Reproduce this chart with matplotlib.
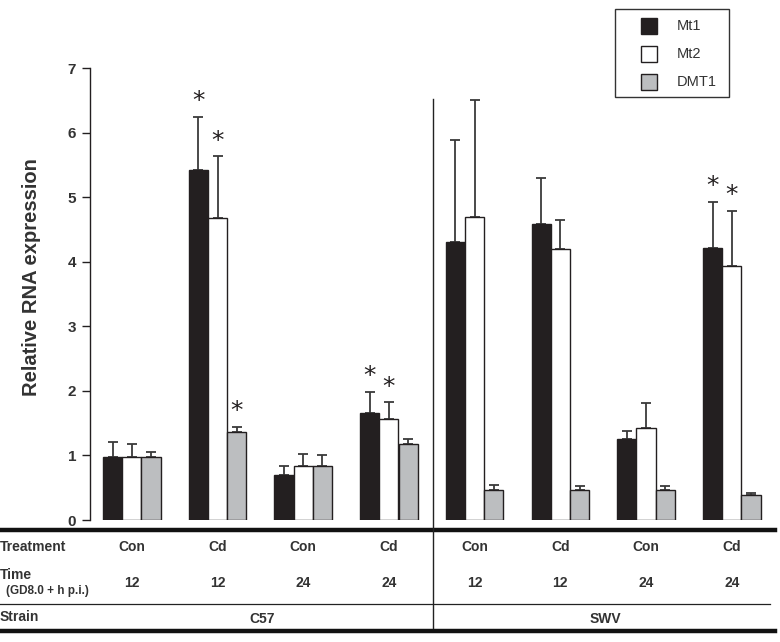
import matplotlib
matplotlib.use("Agg")
import matplotlib.pyplot as plt
from matplotlib.lines import Line2D
from matplotlib.patches import Rectangle
import numpy as np

plt.rcParams['font.family'] = ['Liberation Sans', 'DejaVu Sans']

series = ["Mt1", "Mt2", "DMT1"]
treatment = ["Con", "Cd", "Con", "Cd", "Con", "Cd", "Con", "Cd"]
time_h = ["12", "12", "24", "24", "12", "12", "24", "24"]
strains = ["C57", "SWV"]

mt1 = [0.98, 5.42, 0.69, 1.66, 4.31, 4.58, 1.25, 4.21]
mt1_err = [0.23, 0.82, 0.14, 0.32, 1.58, 0.71, 0.13, 0.71]
mt2 = [0.98, 4.68, 0.84, 1.56, 4.70, 4.19, 1.42, 3.94]
mt2_err = [0.19, 0.95, 0.18, 0.26, 1.81, 0.46, 0.39, 0.85]
dmt1 = [0.98, 1.37, 0.84, 1.17, 0.47, 0.47, 0.47, 0.38]
dmt1_err = [0.08, 0.07, 0.16, 0.08, 0.07, 0.05, 0.06, 0.04]

sig_mt1 = [False, True, False, True, False, False, False, True]
sig_mt2 = [False, True, False, True, False, False, False, True]
sig_dmt1 = [False, True, False, False, False, False, False, False]

W, H = 780, 642
fig = plt.figure(figsize=(W / 100, H / 100), dpi=100)

def fx(px):
    return px / W

def fy(py):
    return 1 - py / H

ax_left, ax_right, ax_top, ax_bot = 90, 775, 68, 520
ax = fig.add_axes([fx(ax_left), fy(ax_bot), fx(ax_right - ax_left), (ax_bot - ax_top) / H])

spacing = 85.7
x0 = -(131.8 - ax_left) / spacing
x1 = (ax_right - 131.8) / spacing
ax.set_xlim(x0, x1)
ax.set_ylim(0, 7)

bw = 19.2 / spacing
x = np.arange(len(treatment))
colors = ["#231f20", "#ffffff", "#bcbec0"]
vals = [mt1, mt2, dmt1]
errs = [mt1_err, mt2_err, dmt1_err]
sigs = [sig_mt1, sig_mt2, sig_dmt1]
for i in range(3):
    xi = x + (i - 1) * bw
    ax.bar(xi, vals[i], width=bw, color=colors[i], edgecolor="#231f20",
           linewidth=1.0, zorder=2)
    ax.errorbar(xi, vals[i], yerr=[np.zeros(len(x)), errs[i]], fmt="none",
                ecolor="#3a3a3a", elinewidth=1.3, capsize=3.5, capthick=1.3, zorder=1)
    for j in range(len(x)):
        if sigs[i][j]:
            top = vals[i][j] + errs[i][j]
            ax.text(xi[j], top + 0.06, "*", ha="center", va="bottom",
                    fontsize=18, color="#231f20", family="DejaVu Sans")

for s in ["top", "right", "bottom"]:
    ax.spines[s].set_visible(False)
ax.spines["left"].set_linewidth(1.0)
ax.spines["left"].set_color("#231f20")
ax.set_xticks([])
ax.set_yticks(range(8))
ax.tick_params(axis="y", length=6, width=1.0, labelsize=11, colors="#231f20", pad=4)
for lab in ax.get_yticklabels():
    lab.set_fontweight("bold")
    lab.set_color("#333333")

fig.text(fx(32), fy(277), "Relative RNA expression", rotation=90, ha="center",
         va="center", fontsize=14.5, fontweight="bold", color="#333333")

# Table lines
fig.add_artist(Line2D([fx(0), fx(775)], [fy(530), fy(530)], color="#111111", lw=3.2))
fig.add_artist(Line2D([fx(0), fx(770)], [fy(604), fy(604)], color="#222222", lw=0.9))
fig.add_artist(Line2D([fx(0), fx(775)], [fy(631), fy(631)], color="#111111", lw=3.2))
fig.add_artist(Line2D([fx(432.5), fx(432.5)], [fy(99), fy(628)], color="#222222", lw=1.0))

tcol = "#333333"
fig.text(fx(0), fy(547), "Treatment", ha="left", va="center", fontsize=10,
         fontweight="bold", color=tcol)
fig.text(fx(0), fy(575), "Time", ha="left", va="center", fontsize=10,
         fontweight="bold", color=tcol)
fig.text(fx(6), fy(591), "(GD8.0 + h p.i.)", ha="left", va="center", fontsize=8.5,
         fontweight="bold", color=tcol)
fig.text(fx(0), fy(617), "Strain", ha="left", va="center", fontsize=10,
         fontweight="bold", color=tcol)

for j in range(len(x)):
    px = 131.8 + j * spacing
    fig.text(fx(px), fy(547), treatment[j], ha="center", va="center", fontsize=10,
             fontweight="bold", color=tcol)
    fig.text(fx(px), fy(583), time_h[j], ha="center", va="center", fontsize=10,
             fontweight="bold", color=tcol)

fig.text(fx(262), fy(619), strains[0], ha="center", va="center", fontsize=10,
         fontweight="bold", color=tcol)
fig.text(fx(605), fy(619), strains[1], ha="center", va="center", fontsize=10,
         fontweight="bold", color=tcol)

# Legend
fig.add_artist(Rectangle((fx(615), fy(97)), fx(729 - 615), (97 - 9) / H,
                         facecolor="white", edgecolor="#333333", lw=1.0))
ly = [26, 54, 82]
for i in range(3):
    fig.add_artist(Rectangle((fx(641), fy(ly[i] + 8)), fx(16), 16 / H,
                             facecolor=colors[i], edgecolor="#231f20", lw=1.0))
    fig.text(fx(677), fy(ly[i]), series[i], ha="left", va="center", fontsize=10.5,
             color="#333333")

fig.savefig("out.png", dpi=100)
